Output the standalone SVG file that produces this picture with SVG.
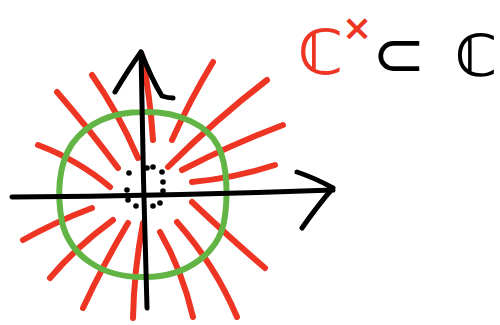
<svg xmlns="http://www.w3.org/2000/svg" width="500" height="325" viewBox="0 0 500 325">
<style>
.r{fill:none;stroke:#ee3524;stroke-width:6;stroke-linecap:round;stroke-linejoin:round}
.k{fill:none;stroke:#000;stroke-width:5;stroke-linecap:round;stroke-linejoin:round}
.g{fill:none;stroke:#62b544;stroke-width:6}
.d{fill:#000}
.t{font-family:"DejaVu Sans",sans-serif;font-weight:bold}
.n{font-family:"DejaVu Sans",sans-serif;font-weight:normal}
</style>
<rect width="500" height="325" fill="#fff"/>
<g id="rays">
<path class="r" d="M142 55 Q150 95 153 140"/>
<path class="r" d="M92 75 Q118 112 138 158"/>
<path class="r" d="M57 92 Q90 130 118 168"/>
<path class="r" d="M38 145 Q78 160 110 187"/>
<path class="r" d="M213 62 Q190 100 172 140"/>
<path class="r" d="M267 80 Q215 120 168 167"/>
<path class="r" d="M283 125 Q230 145 182 170"/>
<path class="r" d="M275 165 Q235 178 192 182"/>
<path class="r" d="M192 202 Q230 238 265 268"/>
<path class="r" d="M177 222 Q215 265 237 317"/>
<path class="r" d="M160 232 Q182 270 193 317"/>
<path class="r" d="M143 223 Q134 270 133 318"/>
<path class="r" d="M128 223 Q103 265 83 308"/>
<path class="r" d="M113 220 Q75 248 50 278"/>
<path class="r" d="M92 208 Q55 222 23 240"/>
</g>
<g id="circle">
<path class="g" d="M143 112 C180 111 208 126 218 146 C228 165 228 200 224 222 C218 252 188 277 145 277 C102 278 70 256 62 222 C57 195 58 165 72 144 C88 122 112 112 143 112 Z"/>
</g>
<g id="axes">
<path class="k" d="M147 308 Q143 180 141 52"/>
<path class="k" d="M115 92 Q128 70 141 52 Q152 80 162 96 Q168 98 173 98"/>
<path class="k" d="M12 197 Q170 196 333 190"/>
<path class="k" d="M297 172 Q315 178 333 188 Q318 205 302 228"/>
</g>
<g id="dots">
<circle class="d" cx="129" cy="173" r="2.8"/>
<circle class="d" cx="147" cy="168" r="2.8"/>
<circle class="d" cx="153" cy="167" r="2.8"/>
<circle class="d" cx="162" cy="172" r="2.8"/>
<circle class="d" cx="163" cy="182" r="2.8"/>
<circle class="d" cx="163" cy="191" r="2.8"/>
<circle class="d" cx="160" cy="203" r="2.8"/>
<circle class="d" cx="153" cy="206" r="2.8"/>
<circle class="d" cx="136" cy="206" r="2.8"/>
<circle class="d" cx="127" cy="190" r="2.8"/>
<circle class="d" cx="128" cy="200" r="2.8"/>
</g>
<g id="label">
<text class="t" x="298" y="74" font-size="62" fill="#ee3524">ℂ</text>
<text class="t" x="342" y="40" font-size="36" fill="#ee3524">×</text>
<text class="n" x="372" y="76" font-size="64" fill="#000">⊂</text>
<text class="t" x="455" y="76" font-size="58" fill="#000">ℂ</text>
</g>
</svg>
